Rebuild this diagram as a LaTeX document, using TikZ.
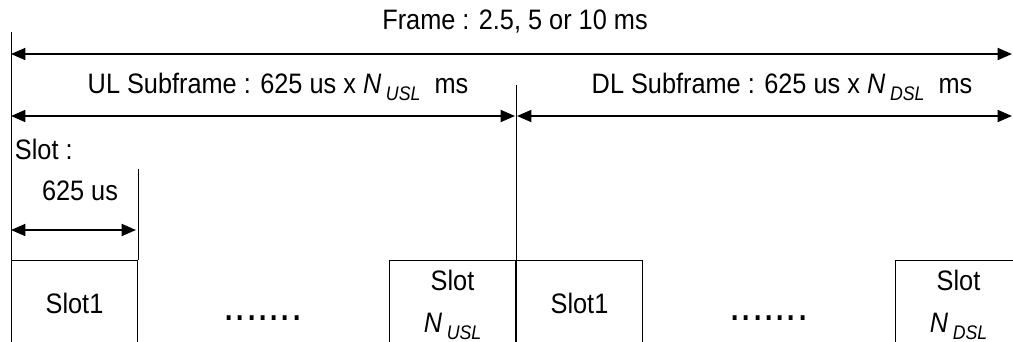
\documentclass[tikz,border=0pt]{standalone}
\usepackage{fontspec}
\setmainfont[FakeStretch=0.9]{Liberation Sans}
\usetikzlibrary{positioning,arrows.meta}
\newcommand{\slotsub}[1]{\,\raisebox{-0.45ex}{\fontsize{14}{14}\selectfont\textit{#1}}}

\begin{document}
\begin{tikzpicture}[
			x=0.025cm, y=-0.025cm,
			font=\fontsize{20}{24}\selectfont,
			>={Triangle[length=0.36cm, width=0.3cm]},
			% 时隙方框,下边缘在图外
			slotnode/.style={rectangle, draw=black, line width=0.7pt, inner sep=0pt, align=center,
				minimum width=3.15cm, minimum height=2.15cm, font=\fontsize{20}{30}\selectfont},
			% 两行的时隙方框
			lastslotnode/.style={slotnode, minimum height=2.2cm},
			% 省略号
			dotsnode/.style={inner sep=0pt, font=\fontsize{32}{32}\selectfont},
			% 看不见的点,用来连接线
			point/.style={coordinate},
			thinline/.style={line width=0.7pt},
			spanline/.style={<->, line width=1.3pt}
		]
		\useasboundingbox (0,0) rectangle (1013,342);
		\clip (0,0) rectangle (1013,342);

		%Nodes
		\node                   (frame)         at (515,21)                         {Frame : 2.5, 5 or 10 ms};
		\node                   (ulsub)         at (278,87)                         {UL Subframe : 625 us x \textit{N}\slotsub{USL}\ \ ms};
		\node                   (dlsub)         at (782,87)                         {DL Subframe : 625 us x \textit{N}\slotsub{DSL}\ \ ms};
		\node[anchor=west]      (slotlabel)     at (10,149)                         {Slot :};
		\node                   (slotlen)       at (80,191)                         {625 us};
		\node[slotnode, anchor=north west]     (ulslot1) at (11,260)               {Slot1};
		\node[lastslotnode, anchor=north west] (ulslotn) at (389,260)              {Slot\\\textit{N}\slotsub{USL}};
		\node[slotnode, anchor=north west]     (dlslot1) at (516,260)              {Slot1};
		\node[lastslotnode, anchor=north west] (dlslotn) at (895,260)              {Slot\\\textit{N}\slotsub{DSL}};
		\node[dotsnode]         (uldots)        at (263,318)                        {.......};
		\node[dotsnode]         (dldots)        at (769,318)                        {.......};

		%Points
		\node[point]            (lefttop)       at (11,32)                          {};
		\node[point]            (leftbot)       at (11,342)                         {};
		\node[point]            (midtop)        at (516,85)                         {};
		\node[point]            (midbot)        at (516,342)                        {};
		\node[point]            (slottop)       at (137,169)                        {};
		\node[point]            (frameleft)     at (11,54)                          {};
		\node[point]            (frameright)    at (1012,54)                        {};
		\node[point]            (ulleft)        at (11,116)                         {};
		\node[point]            (ulright)       at (515,116)                        {};
		\node[point]            (dlleft)        at (517,116)                        {};
		\node[point]            (dlright)       at (1012,116)                       {};
		\node[point]            (slotleft)      at (11,230)                         {};
		\node[point]            (slotright)     at (136,230)                        {};

		%Lines
		\draw[thinline] (lefttop)   --  (leftbot);
		\draw[thinline] (midtop)    --  (midbot);
		\draw[thinline] (ulslot1.north east) -- (ulslot1.north east |- slottop);
		\draw[spanline] (frameleft) --  (frameright);
		\draw[spanline] (ulleft)    --  (ulright);
		\draw[spanline] (dlleft)    --  (dlright);
		\draw[spanline] (slotleft)  --  (slotright);
	\end{tikzpicture}
\end{document}
